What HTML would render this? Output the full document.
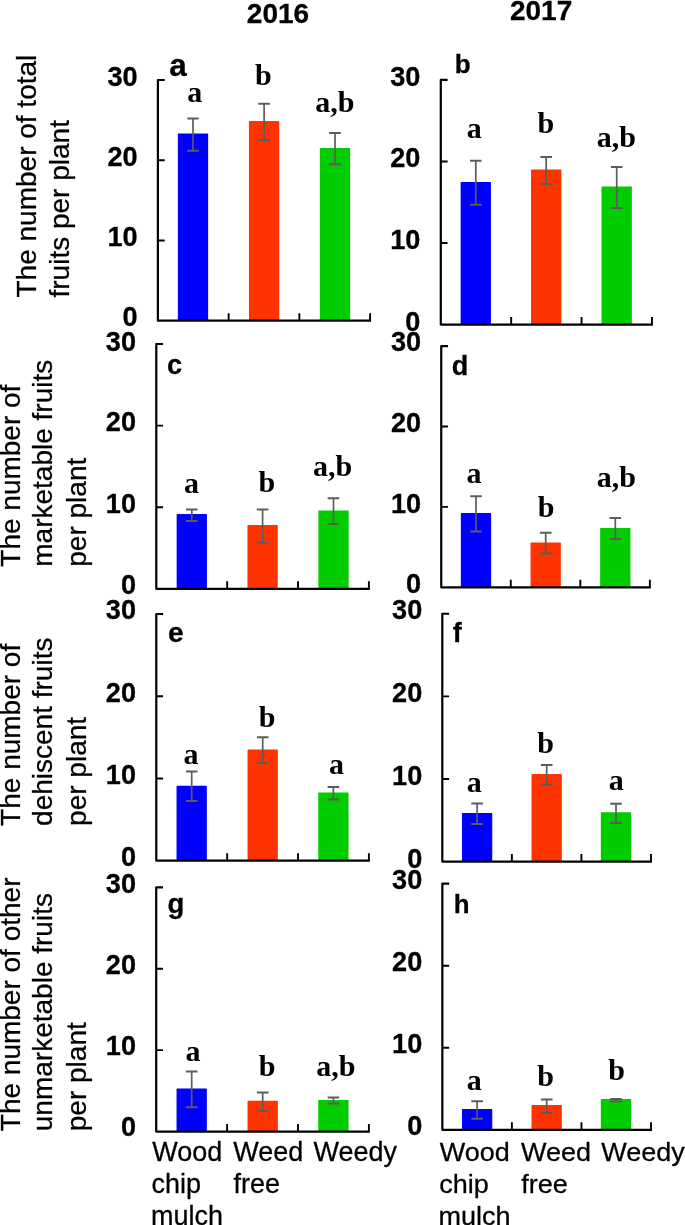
<!DOCTYPE html>
<html lang="en"><head><meta charset="utf-8"><title>Fruit number per plant, 2016 and 2017</title>
<style>
html,body{margin:0;padding:0;background:#fff;}
body{width:685px;height:1225px;overflow:hidden;position:relative;font-family:"Liberation Sans", sans-serif;}
svg{position:absolute;left:0;top:0;display:block;}
.txt{filter:grayscale(1);}
text{fill:#000;}
.tk{font-family:"Liberation Sans", sans-serif;font-weight:bold;font-size:27.1px;text-anchor:end;stroke:#000;stroke-width:0.3px;}
.pl{font-family:"Liberation Sans", sans-serif;font-weight:bold;stroke:#000;stroke-width:0.3px;}
.sg{font-family:"Liberation Serif", serif;font-weight:bold;font-size:30px;text-anchor:middle;}
.yl{font-family:"Liberation Sans", sans-serif;font-size:28px;stroke:#000;stroke-width:0.28px;}
.xl{font-family:"Liberation Sans", sans-serif;font-size:27px;stroke:#000;stroke-width:0.28px;}
.ax{stroke:#000;stroke-width:2.2;fill:none;stroke-linecap:butt;stroke-linejoin:round;}
.eb{stroke:#5c5c5c;fill:none;}
</style></head><body>
<svg width="685" height="1225" viewBox="0 0 685 1225" role="img" aria-label="Bar charts of fruit number per plant in 2016 and 2017">
<rect x="0" y="0" width="685" height="1225" fill="#ffffff"/>
<g id="panel-a">
<rect x="177.85" y="133.6" width="30.3" height="187.05" rx="0.7" fill="#0000ff"/>
<rect x="248.95" y="121.1" width="30.3" height="199.55" rx="0.7" fill="#ff3300"/>
<rect x="319.85" y="148.1" width="30.3" height="172.55" rx="0.7" fill="#00cc00"/>
<path class="ax" d="M164.7 80 H157.9 V320.65 H371.05"/>
<path class="ax" style="stroke-width:1.9" d="M157.9 160.22H164.7M157.9 240.43H164.7M228.63 320.65V313.15M299.37 320.65V313.15M370.1 320.65V313.15"/>
<path class="eb" stroke-width="1.7" d="M193 118.6V150.7"/>
<path class="eb" stroke-width="2.0" d="M187.2 118.6H198.8M187.2 150.7H198.8"/>
<path class="eb" stroke-width="1.7" d="M264.1 103.7V139.9"/>
<path class="eb" stroke-width="2.0" d="M258.3 103.7H269.9M258.3 139.9H269.9"/>
<path class="eb" stroke-width="1.7" d="M335 132.9V164.3"/>
<path class="eb" stroke-width="2.0" d="M329.2 132.9H340.8M329.2 164.3H340.8"/>
</g>
<g id="panel-b">
<rect x="460.65" y="181.9" width="30.3" height="142.7" rx="0.7" fill="#0000ff"/>
<rect x="531.05" y="169.6" width="30.3" height="155" rx="0.7" fill="#ff3300"/>
<rect x="601.55" y="186.6" width="30.3" height="138" rx="0.7" fill="#00cc00"/>
<path class="ax" d="M447.6 79.95 H440.8 V324.6 H652.9"/>
<path class="ax" style="stroke-width:1.9" d="M440.8 161.5H447.6M440.8 243.05H447.6M511.18 324.6V317.1M581.57 324.6V317.1M651.95 324.6V317.1"/>
<path class="eb" stroke-width="1.7" d="M475.8 160.8V204.7"/>
<path class="eb" stroke-width="2.0" d="M470 160.8H481.6M470 204.7H481.6"/>
<path class="eb" stroke-width="1.7" d="M546.2 156.9V183.9"/>
<path class="eb" stroke-width="2.0" d="M540.4 156.9H552M540.4 183.9H552"/>
<path class="eb" stroke-width="1.7" d="M616.7 166.9V208"/>
<path class="eb" stroke-width="2.0" d="M610.9 166.9H622.5M610.9 208H622.5"/>
</g>
<g id="panel-c">
<rect x="176.65" y="514.1" width="30.3" height="74.7" rx="0.7" fill="#0000ff"/>
<rect x="247.45" y="525.1" width="30.3" height="63.7" rx="0.7" fill="#ff3300"/>
<rect x="318.35" y="510.6" width="30.3" height="78.2" rx="0.7" fill="#00cc00"/>
<path class="ax" d="M163.1 344 H156.3 V588.8 H369.85"/>
<path class="ax" style="stroke-width:1.9" d="M156.3 425.6H163.1M156.3 507.2H163.1M227.17 588.8V581.3M298.03 588.8V581.3M368.9 588.8V581.3"/>
<path class="eb" stroke-width="1.7" d="M191.8 509.5V520.9"/>
<path class="eb" stroke-width="2.0" d="M186 509.5H197.6M186 520.9H197.6"/>
<path class="eb" stroke-width="1.7" d="M262.6 509.6V542.6"/>
<path class="eb" stroke-width="2.0" d="M256.8 509.6H268.4M256.8 542.6H268.4"/>
<path class="eb" stroke-width="1.7" d="M333.5 498.2V523.9"/>
<path class="eb" stroke-width="2.0" d="M327.7 498.2H339.3M327.7 523.9H339.3"/>
</g>
<g id="panel-d">
<rect x="460.85" y="513.1" width="30.3" height="74.2" rx="0.7" fill="#0000ff"/>
<rect x="530.55" y="542.6" width="30.3" height="44.7" rx="0.7" fill="#ff3300"/>
<rect x="600.15" y="528.1" width="30.3" height="59.2" rx="0.7" fill="#00cc00"/>
<path class="ax" d="M448.05 346.15 H441.25 V587.3 H650.8"/>
<path class="ax" style="stroke-width:1.9" d="M441.25 426.53H448.05M441.25 506.92H448.05M510.78 587.3V579.8M580.32 587.3V579.8M649.85 587.3V579.8"/>
<path class="eb" stroke-width="1.7" d="M476 496.2V531.6"/>
<path class="eb" stroke-width="2.0" d="M470.2 496.2H481.8M470.2 531.6H481.8"/>
<path class="eb" stroke-width="1.7" d="M545.7 532.8V553.6"/>
<path class="eb" stroke-width="2.0" d="M539.9 532.8H551.5M539.9 553.6H551.5"/>
<path class="eb" stroke-width="1.7" d="M615.3 518.1V539.1"/>
<path class="eb" stroke-width="2.0" d="M609.5 518.1H621.1M609.5 539.1H621.1"/>
</g>
<g id="panel-e">
<rect x="176.55" y="785.7" width="30.3" height="74.95" rx="0.7" fill="#0000ff"/>
<rect x="247.55" y="749.4" width="30.3" height="111.25" rx="0.7" fill="#ff3300"/>
<rect x="318.25" y="792.6" width="30.3" height="68.05" rx="0.7" fill="#00cc00"/>
<path class="ax" d="M163.1 614 H156.3 V860.65 H369.85"/>
<path class="ax" style="stroke-width:1.9" d="M156.3 696.22H163.1M156.3 778.43H163.1M227.17 860.65V853.15M298.03 860.65V853.15M368.9 860.65V853.15"/>
<path class="eb" stroke-width="1.7" d="M191.7 771.4V801.1"/>
<path class="eb" stroke-width="2.0" d="M185.9 771.4H197.5M185.9 801.1H197.5"/>
<path class="eb" stroke-width="1.7" d="M262.7 737.3V762.9"/>
<path class="eb" stroke-width="2.0" d="M256.9 737.3H268.5M256.9 762.9H268.5"/>
<path class="eb" stroke-width="1.7" d="M333.4 786.9V799.6"/>
<path class="eb" stroke-width="2.0" d="M327.6 786.9H339.2M327.6 799.6H339.2"/>
</g>
<g id="panel-f">
<rect x="461.95" y="813.1" width="30.3" height="48.5" rx="0.7" fill="#0000ff"/>
<rect x="531.55" y="774.1" width="30.3" height="87.5" rx="0.7" fill="#ff3300"/>
<rect x="600.85" y="812.3" width="30.3" height="49.3" rx="0.7" fill="#00cc00"/>
<path class="ax" d="M449.1 613.75 H442.3 V861.6 H651.95"/>
<path class="ax" style="stroke-width:1.9" d="M442.3 696.37H449.1M442.3 778.98H449.1M511.87 861.6V854.1M581.43 861.6V854.1M651 861.6V854.1"/>
<path class="eb" stroke-width="1.7" d="M477.1 803.6V824.1"/>
<path class="eb" stroke-width="2.0" d="M471.3 803.6H482.9M471.3 824.1H482.9"/>
<path class="eb" stroke-width="1.7" d="M546.7 765.1V784.9"/>
<path class="eb" stroke-width="2.0" d="M540.9 765.1H552.5M540.9 784.9H552.5"/>
<path class="eb" stroke-width="1.7" d="M616 803.8V823"/>
<path class="eb" stroke-width="2.0" d="M610.2 803.8H621.8M610.2 823H621.8"/>
</g>
<g id="panel-g">
<rect x="176.55" y="1088.6" width="30.3" height="42.95" rx="0.7" fill="#0000ff"/>
<rect x="247.55" y="1100.8" width="30.3" height="30.75" rx="0.7" fill="#ff3300"/>
<rect x="318.25" y="1099.9" width="30.3" height="31.65" rx="0.7" fill="#00cc00"/>
<path class="ax" d="M163 887.3 H156.2 V1131.55 H369.85"/>
<path class="ax" style="stroke-width:1.9" d="M156.2 968.72H163M156.2 1050.13H163M227.1 1131.55V1124.05M298 1131.55V1124.05M368.9 1131.55V1124.05"/>
<path class="eb" stroke-width="1.7" d="M191.7 1071.6V1107.3"/>
<path class="eb" stroke-width="2.0" d="M185.9 1071.6H197.5M185.9 1107.3H197.5"/>
<path class="eb" stroke-width="1.7" d="M262.7 1092.4V1110.8"/>
<path class="eb" stroke-width="2.0" d="M256.9 1092.4H268.5M256.9 1110.8H268.5"/>
<path class="eb" stroke-width="1.7" d="M333.4 1097.6V1103.6"/>
<path class="eb" stroke-width="2.0" d="M327.6 1097.6H339.2M327.6 1103.6H339.2"/>
</g>
<g id="panel-h">
<rect x="461.95" y="1109.1" width="30.3" height="20.77" rx="0.7" fill="#0000ff"/>
<rect x="531.55" y="1105.1" width="30.3" height="24.77" rx="0.7" fill="#ff3300"/>
<rect x="600.85" y="1099.1" width="30.3" height="30.77" rx="0.7" fill="#00cc00"/>
<path class="ax" d="M449.15 883.6 H442.35 V1129.87 H651.95"/>
<path class="ax" style="stroke-width:1.9" d="M442.35 965.69H449.15M442.35 1047.78H449.15M511.9 1129.87V1122.37M581.45 1129.87V1122.37M651 1129.87V1122.37"/>
<path class="eb" stroke-width="1.7" d="M477.1 1101.3V1118.8"/>
<path class="eb" stroke-width="2.0" d="M471.3 1101.3H482.9M471.3 1118.8H482.9"/>
<path class="eb" stroke-width="1.7" d="M546.7 1099.6V1112.7"/>
<path class="eb" stroke-width="2.0" d="M540.9 1099.6H552.5M540.9 1112.7H552.5"/>
<path class="eb" stroke-width="1.7" d="M616 1099V1101.6"/>
<path class="eb" stroke-width="2.0" d="M610.2 1099H621.8M610.2 1101.6H621.8"/>
</g>
<g class="txt">
<text class="pl" x="278" y="23.3" font-size="28" text-anchor="middle">2016</text>
<text class="pl" x="541.1" y="20.1" font-size="28" text-anchor="middle">2017</text>
<text class="yl" transform="translate(36.2 297.5) rotate(-90)" x="0" y="0">The number of total</text>
<text class="yl" transform="translate(68.8 297.5) rotate(-90)" x="0" y="0">fruits per plant</text>
<text class="yl" transform="translate(20.1 566.7) rotate(-90)" x="0" y="0">The number of</text>
<text class="yl" transform="translate(52.3 566.7) rotate(-90)" x="0" y="0">marketable fruits</text>
<text class="yl" transform="translate(85.6 566.7) rotate(-90)" x="0" y="0">per plant</text>
<text class="yl" transform="translate(20.1 825.9) rotate(-90)" x="0" y="0">The number of</text>
<text class="yl" transform="translate(52.3 825.9) rotate(-90)" x="0" y="0">dehiscent fruits</text>
<text class="yl" transform="translate(85.6 825.9) rotate(-90)" x="0" y="0">per plant</text>
<text class="yl" transform="translate(20.1 1131.2) rotate(-90)" x="0" y="0">The number of other</text>
<text class="yl" transform="translate(52.3 1131.2) rotate(-90)" x="0" y="0">unmarketable fruits</text>
<text class="yl" transform="translate(85.6 1131.2) rotate(-90)" x="0" y="0">per plant</text>
<text class="tk" transform="translate(137.6 86.1) scale(1 1.04)">30</text>
<text class="tk" transform="translate(137.6 166.2) scale(1 1.04)">20</text>
<text class="tk" transform="translate(137.6 245.7) scale(1 1.04)">10</text>
<text class="tk" transform="translate(137.6 326.1) scale(1 1.04)">0</text>
<text class="pl" x="169.2" y="75.8" font-size="31.5">a</text>
<text class="sg" x="194.85" y="101.8">a</text>
<text class="sg" x="263.3" y="85">b</text>
<text class="sg" x="334.85" y="111.7">a,b</text>
<text class="tk" transform="translate(420.4 85.7) scale(1 1.04)">30</text>
<text class="tk" transform="translate(420.4 167.3) scale(1 1.04)">20</text>
<text class="tk" transform="translate(420.4 248.75) scale(1 1.04)">10</text>
<text class="tk" transform="translate(420.4 330.8) scale(1 1.04)">0</text>
<text class="pl" x="454.8" y="73" font-size="26">b</text>
<text class="sg" x="474.15" y="138.3">a</text>
<text class="sg" x="545.9" y="133.3">b</text>
<text class="sg" x="616.4" y="146.6">a,b</text>
<text class="tk" transform="translate(136 350.5) scale(1 1.04)">30</text>
<text class="tk" transform="translate(136 430.7) scale(1 1.04)">20</text>
<text class="tk" transform="translate(136 512.6) scale(1 1.04)">10</text>
<text class="tk" transform="translate(136 594) scale(1 1.04)">0</text>
<text class="pl" x="167" y="374.3" font-size="27.2">c</text>
<text class="sg" x="191.55" y="492.7">a</text>
<text class="sg" x="266.9" y="491.8">b</text>
<text class="sg" x="332.7" y="475.5">a,b</text>
<text class="tk" transform="translate(421.15 351.1) scale(1 1.04)">30</text>
<text class="tk" transform="translate(421.15 432.4) scale(1 1.04)">20</text>
<text class="tk" transform="translate(421.15 512.9) scale(1 1.04)">10</text>
<text class="tk" transform="translate(421.15 592.8) scale(1 1.04)">0</text>
<text class="pl" x="451.7" y="374.7" font-size="27">d</text>
<text class="sg" x="474.1" y="482.7">a</text>
<text class="sg" x="546.2" y="517.1">b</text>
<text class="sg" x="616.45" y="486.7">a,b</text>
<text class="tk" transform="translate(136 619.3) scale(1 1.04)">30</text>
<text class="tk" transform="translate(136 701.5) scale(1 1.04)">20</text>
<text class="tk" transform="translate(136 783.6) scale(1 1.04)">10</text>
<text class="tk" transform="translate(136 865.8) scale(1 1.04)">0</text>
<text class="pl" x="168" y="641.7" font-size="28">e</text>
<text class="sg" x="191" y="763.5">a</text>
<text class="sg" x="267.1" y="727.2">b</text>
<text class="sg" x="336.5" y="773.8">a</text>
<text class="tk" transform="translate(422.2 618.7) scale(1 1.04)">30</text>
<text class="tk" transform="translate(422.2 701.9) scale(1 1.04)">20</text>
<text class="tk" transform="translate(422.2 784.65) scale(1 1.04)">10</text>
<text class="tk" transform="translate(422.2 867.5) scale(1 1.04)">0</text>
<text class="pl" x="452.7" y="641.6" font-size="27">f</text>
<text class="sg" x="474.25" y="792">a</text>
<text class="sg" x="545.7" y="753.3">b</text>
<text class="sg" x="616.35" y="789.5">a</text>
<text class="tk" transform="translate(136 892.6) scale(1 1.04)">30</text>
<text class="tk" transform="translate(136 973.8) scale(1 1.04)">20</text>
<text class="tk" transform="translate(136 1054.6) scale(1 1.04)">10</text>
<text class="tk" transform="translate(136 1136.3) scale(1 1.04)">0</text>
<text class="pl" x="167.5" y="913.2" font-size="27.5">g</text>
<text class="sg" x="193" y="1060.5">a</text>
<text class="sg" x="267.1" y="1075.7">b</text>
<text class="sg" x="335.85" y="1076.1">a,b</text>
<text class="tk" transform="translate(422.2 889.1) scale(1 1.04)">30</text>
<text class="tk" transform="translate(422.2 970.7) scale(1 1.04)">20</text>
<text class="tk" transform="translate(422.2 1053.2) scale(1 1.04)">10</text>
<text class="tk" transform="translate(422.2 1135.3) scale(1 1.04)">0</text>
<text class="pl" x="453.7" y="912.6" font-size="25.8">h</text>
<text class="sg" x="474.25" y="1090.2">a</text>
<text class="sg" x="545.7" y="1085.7">b</text>
<text class="sg" x="616.6" y="1080">b</text>
<text class="xl" transform="translate(152.2 1161.2) scale(1 1.035)">Wood</text>
<text class="xl" transform="translate(151.6 1193.2) scale(1 1.035)">chip</text>
<text class="xl" transform="translate(151 1225.2) scale(1 1.035)">mulch</text>
<text class="xl" transform="translate(233.2 1161.2) scale(1 1.035)">Weed</text>
<text class="xl" transform="translate(233.4 1193.2) scale(1 1.035)">free</text>
<text class="xl" transform="translate(313.4 1161.2) scale(1 1.035)">Weedy</text>
<text class="xl" transform="translate(439.8 1161) scale(1 0.985)">Wood</text>
<text class="xl" transform="translate(439.2 1193) scale(1 0.985)">chip</text>
<text class="xl" transform="translate(438.6 1225) scale(1 0.985)">mulch</text>
<text class="xl" transform="translate(521.1 1161) scale(1 0.985)">Weed</text>
<text class="xl" transform="translate(521.3 1193) scale(1 0.985)">free</text>
<text class="xl" transform="translate(601.2 1161) scale(1 0.985)">Weedy</text>
</g>
</svg>
</body></html>
